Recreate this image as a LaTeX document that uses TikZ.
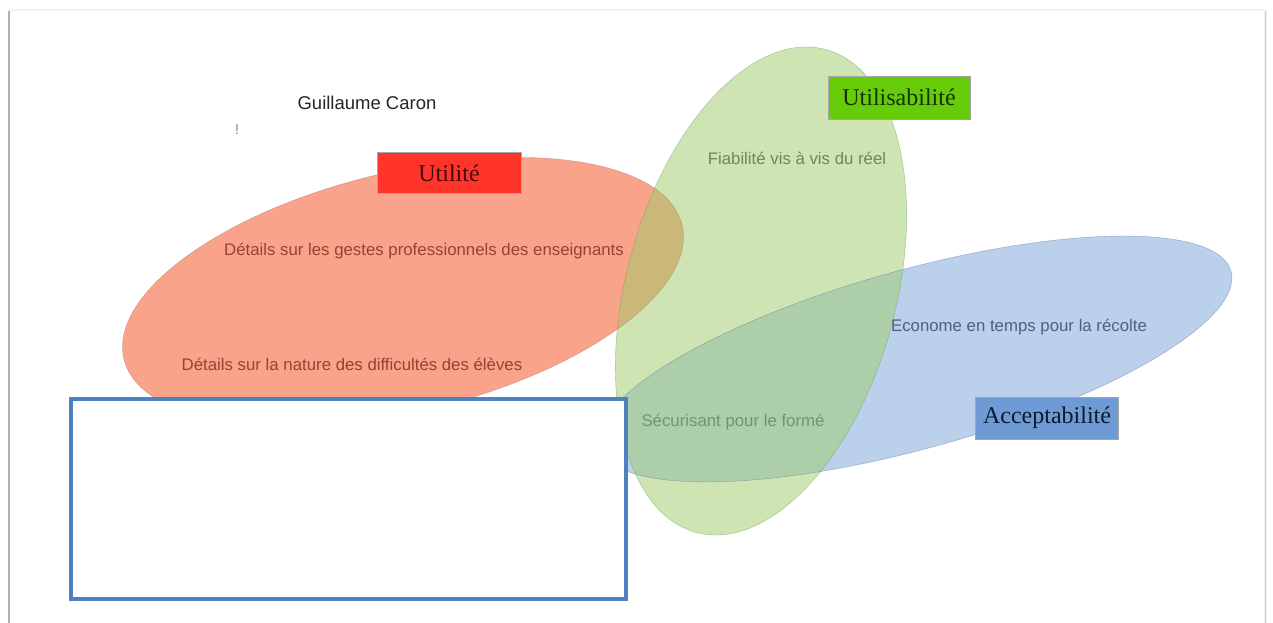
\documentclass[tikz,border=0pt]{standalone}
\usepackage{fontspec}
\setmainfont{Liberation Sans}
\newfontfamily\tagfont{Liberation Serif}

\definecolor{salmon}{RGB}{249,164,138}
\definecolor{leaf}{RGB}{159,205,105}
\definecolor{sky}{RGB}{186,208,235}
\definecolor{tagred}{RGB}{255,52,42}
\definecolor{taggreen}{RGB}{102,204,10}
\definecolor{tagblue}{RGB}{110,155,213}
\definecolor{frameblue}{RGB}{79,129,189}

\begin{document}
\begin{tikzpicture}[x=1pt, y=-1pt,
  tag/.style={draw=gray!70, thin, inner sep=0pt, font=\tagfont\fontsize{24}{28}\selectfont},
  note/.style={inner sep=0pt, font=\fontsize{16.8}{20}\selectfont}]
  \useasboundingbox (0,0) rectangle (1273,623);
  % page and its shadow
  \fill[gray!10] (8,9) rectangle (1267,623);
  \fill[white] (10,11) rectangle (1264,623);
  \draw[gray!60, line width=2pt] (9,11) -- (9,623);
  \draw[gray!40, line width=1pt] (1265,11) -- (1265,623);

  \coordinate (U) at (403,292);
  \coordinate (S) at (761,291);
  \coordinate (A) at (915,359);

  % les trois ellipses
  \fill[salmon, rotate around={13.5:(U)}] (U) ellipse [x radius=287pt, y radius=120pt];
  \fill[sky, rotate around={15.5:(A)}] (A) ellipse [x radius=328pt, y radius=89.5pt];
  \fill[leaf, fill opacity=0.5, rotate around={-15:(S)}] (S) ellipse [x radius=135pt, y radius=250pt];
  \draw[gray!80!red, opacity=0.5, rotate around={13.5:(U)}] (U) ellipse [x radius=287pt, y radius=120pt];
  \draw[gray!70!blue, opacity=0.5, rotate around={15.5:(A)}] (A) ellipse [x radius=328pt, y radius=89.5pt];
  \draw[gray!70!green, opacity=0.6, rotate around={-15:(S)}] (S) ellipse [x radius=135pt, y radius=250pt];

  \node[text=black!85] (auteur) at (367,103) {\fontsize{18.5}{22}\selectfont Guillaume Caron};
  \node[text={rgb,255:red,110;green,120;blue,180}] (marque) at (237,130) {\fontsize{14}{16}\selectfont !};

  \node[note, text={rgb,255:red,148;green,68;blue,52}] (gestes) at (424,251)
    {Détails sur les gestes professionnels des enseignants};
  \node[note, text={rgb,255:red,148;green,68;blue,52}] (nature) at (352,364)
    {Détails sur la nature des difficultés des élèves};
  \node[note, text={rgb,255:red,112;green,132;blue,98}] (fiable) at (797,158)
    {Fiabilité vis à vis du réel};
  \node[note, text={rgb,255:red,82;green,96;blue,122}] (econome) at (1019,327)
    {Econome en temps pour la récolte};
  \node[note, text={rgb,255:red,112;green,150;blue,106}] (securise) at (733,422)
    {Sécurisant pour le formé};

  \node[tag, fill=tagred, text={rgb,255:red,70;green,8;blue,8},
    minimum width=144pt, minimum height=41pt] (utilite) at (449,173) {Utilité};
  \node[tag, fill=taggreen, text={rgb,255:red,20;green,50;blue,0},
    minimum width=142pt, minimum height=43pt] (utilisa) at (899,97.5) {Utilisabilité};
  \node[tag, fill=tagblue, text={rgb,255:red,15;green,25;blue,45},
    minimum width=143pt, minimum height=42pt] (accept) at (1047,418) {Acceptabilité};

  % cadre vide
  \draw[frameblue, line width=4pt, fill=white] (71,399) rectangle (626,599);
\end{tikzpicture}
\end{document}
